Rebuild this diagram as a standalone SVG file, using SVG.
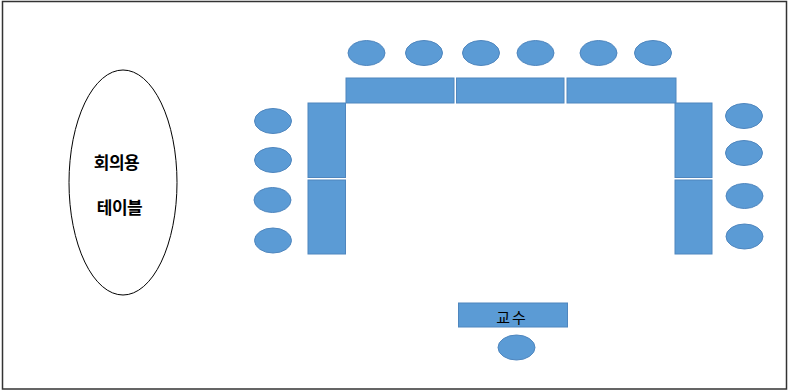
<svg xmlns="http://www.w3.org/2000/svg" width="789" height="392" viewBox="0 0 789 392">
<style>
.s{fill:#5b9bd5;stroke:#4f86be;stroke-width:1}
.t{font-family:"Noto Sans CJK KR","Noto Sans",sans-serif;fill:#000}
</style>
<rect x="0" y="0" width="789" height="392" fill="#fff"/>
<rect x="2.5" y="1.5" width="784" height="387.5" fill="none" stroke="#333" stroke-width="1.5"/>
<g id="meeting-table">
<ellipse cx="123" cy="182.5" rx="54" ry="112.5" fill="#fff" stroke="#000" stroke-width="1"/>
<text class="t" x="116.5" y="169" font-size="17" font-weight="bold" text-anchor="middle" letter-spacing="-0.5">회의용</text>
<text class="t" x="119.5" y="214" font-size="17" font-weight="bold" text-anchor="middle" letter-spacing="-0.5">테이블</text>
</g>
<g id="top-tables">
<rect class="s" x="346" y="78" width="108" height="25"/>
<rect class="s" x="456.5" y="78" width="107.5" height="25"/>
<rect class="s" x="567" y="78" width="109" height="25"/>
</g>
<g id="left-tables">
<rect class="s" x="308" y="103" width="37.5" height="74.5"/>
<rect class="s" x="308" y="180" width="37.5" height="74"/>
</g>
<g id="right-tables">
<rect class="s" x="675" y="103" width="37" height="74.5"/>
<rect class="s" x="675" y="180" width="37" height="74"/>
</g>
<g id="top-seats">
<ellipse class="s" cx="366.5" cy="53" rx="18.5" ry="12.5"/>
<ellipse class="s" cx="424" cy="53" rx="18.5" ry="12.5"/>
<ellipse class="s" cx="481" cy="53" rx="18.5" ry="12.5"/>
<ellipse class="s" cx="535.5" cy="53" rx="18.5" ry="12.5"/>
<ellipse class="s" cx="598.5" cy="53" rx="18.5" ry="12.5"/>
<ellipse class="s" cx="653" cy="53" rx="18.5" ry="12.5"/>
</g>
<g id="left-seats">
<ellipse class="s" cx="273" cy="121" rx="18.5" ry="12.5"/>
<ellipse class="s" cx="273" cy="160" rx="18.5" ry="12.5"/>
<ellipse class="s" cx="272.5" cy="200" rx="18.5" ry="12.5"/>
<ellipse class="s" cx="273" cy="240.5" rx="18.5" ry="12.5"/>
</g>
<g id="right-seats">
<ellipse class="s" cx="744" cy="116" rx="18.5" ry="12.5"/>
<ellipse class="s" cx="744" cy="153" rx="18.5" ry="12.5"/>
<ellipse class="s" cx="744.5" cy="196" rx="18.5" ry="12.5"/>
<ellipse class="s" cx="744.5" cy="236.5" rx="18.5" ry="12.5"/>
</g>
<g id="professor">
<rect class="s" x="458.5" y="303" width="109" height="24"/>
<text class="t" x="512" y="323" font-size="15" text-anchor="middle" letter-spacing="2">교수</text>
<ellipse class="s" cx="516.5" cy="347.5" rx="18.5" ry="12.5"/>
</g>
<g id="connectors"></g>
</svg>
